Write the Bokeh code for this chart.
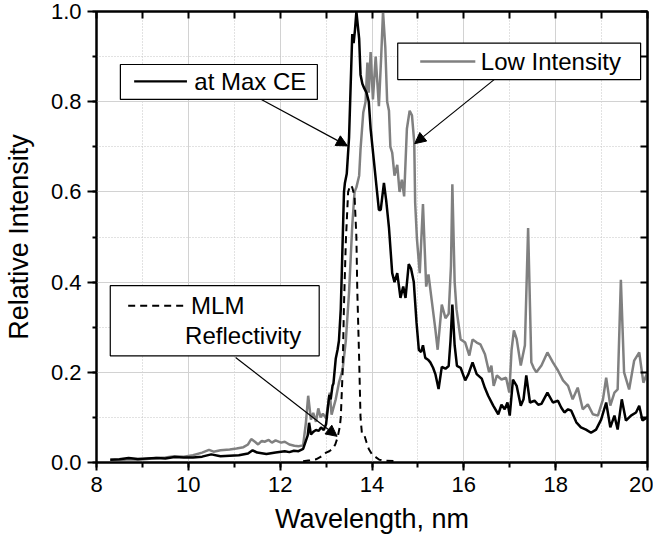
from bokeh.plotting import figure
from bokeh.models import (SingleIntervalTicker, FixedTicker, LinearAxis, NumeralTickFormatter,
                          BoxAnnotation, Label, Arrow, NormalHead)
from bokeh.embed import file_html
from bokeh.resources import INLINE

# ---------------- data ----------------
max_ce_x = [8.3, 8.5, 8.7, 8.9, 9.1, 9.3, 9.5, 9.7, 9.9, 10.1, 10.3, 10.5, 10.7, 10.9,
            11.1, 11.3, 11.4, 11.5, 11.7, 11.9, 12.1, 12.2, 12.3, 12.4, 12.5, 12.55,
            12.6, 12.63, 12.67, 12.72, 12.78, 12.84, 12.89, 12.95, 13.0, 13.07, 13.1,
            13.14, 13.16, 13.21, 13.25, 13.28, 13.32, 13.35, 13.39, 13.41, 13.45, 13.5,
            13.57, 13.6, 13.63, 13.66, 13.69, 13.72, 13.75, 13.79, 13.83, 13.88, 13.93,
            13.97, 14.04, 14.11, 14.15, 14.19, 14.26, 14.31, 14.37, 14.44, 14.49, 14.55,
            14.62, 14.68, 14.73, 14.8, 14.85, 14.91, 14.97, 15.02, 15.07, 15.11, 15.16,
            15.22, 15.27, 15.33, 15.38, 15.45, 15.52, 15.6, 15.67, 15.71, 15.75, 15.8,
            15.85, 15.93, 16.03, 16.1, 16.19, 16.28, 16.39, 16.46, 16.53, 16.64, 16.75,
            16.82, 16.89, 16.95, 17.0, 17.07, 17.15, 17.24, 17.3, 17.36, 17.44, 17.54,
            17.62, 17.69, 17.82, 17.94, 18.05, 18.12, 18.19, 18.27, 18.34, 18.45, 18.55,
            18.66, 18.77, 18.88, 18.99, 19.1, 19.19, 19.28, 19.35, 19.44, 19.53, 19.64,
            19.75, 19.82, 19.89, 20.0]
max_ce_y = [0.006, 0.007, 0.010, 0.008, 0.009, 0.010, 0.009, 0.012, 0.011, 0.011, 0.013,
            0.018, 0.014, 0.015, 0.016, 0.020, 0.027, 0.022, 0.019, 0.022, 0.025, 0.023,
            0.026, 0.025, 0.030, 0.045, 0.060, 0.088, 0.062, 0.068, 0.072, 0.070, 0.078,
            0.072, 0.085, 0.15, 0.14, 0.17, 0.175, 0.23, 0.25, 0.27, 0.34, 0.45, 0.60,
            0.62, 0.64, 0.72, 0.95, 0.93, 0.96, 1.0, 0.97, 0.94, 0.86, 0.84, 0.83, 0.82,
            0.80, 0.74, 0.67, 0.60, 0.56, 0.56, 0.62, 0.58, 0.52, 0.42, 0.40, 0.42, 0.365,
            0.39, 0.365, 0.44, 0.43, 0.40, 0.31, 0.25, 0.245, 0.26, 0.232, 0.228, 0.222,
            0.21, 0.196, 0.163, 0.212, 0.208, 0.214, 0.27, 0.35, 0.26, 0.214, 0.21, 0.182,
            0.196, 0.222, 0.196, 0.186, 0.165, 0.148, 0.126, 0.107, 0.128, 0.118, 0.133,
            0.104, 0.184, 0.17, 0.126, 0.14, 0.193, 0.133, 0.137, 0.128, 0.13, 0.155,
            0.133, 0.137, 0.122, 0.111, 0.118, 0.115, 0.089, 0.078, 0.073, 0.066, 0.073,
            0.095, 0.133, 0.078, 0.104, 0.073, 0.14, 0.093, 0.104, 0.111, 0.126, 0.093,
            0.1]

low_x = [8.3, 8.5, 8.7, 8.9, 9.1, 9.3, 9.5, 9.7, 9.9, 10.1, 10.3, 10.45, 10.55, 10.7,
         10.9, 11.05, 11.2, 11.3, 11.37, 11.45, 11.52, 11.6, 11.66, 11.75, 11.82, 11.9,
         12.02, 12.1, 12.2, 12.31, 12.4, 12.5, 12.56, 12.61, 12.67, 12.72, 12.78, 12.83,
         12.88, 12.93, 13.0, 13.08, 13.12, 13.21, 13.28, 13.36, 13.43, 13.5, 13.57, 13.62,
         13.66, 13.72, 13.75, 13.81, 13.86, 13.9, 13.93, 13.97, 14.02, 14.08, 14.15, 14.2,
         14.24, 14.29, 14.33, 14.37, 14.4, 14.44, 14.49, 14.55, 14.6, 14.65, 14.7, 14.76,
         14.82, 14.87, 14.92, 14.94, 14.98, 15.04, 15.11, 15.18, 15.23, 15.3, 15.38, 15.43,
         15.49, 15.52, 15.6, 15.67, 15.72, 15.75, 15.8, 15.84, 15.93, 16.03, 16.12, 16.19,
         16.28, 16.36, 16.46, 16.55, 16.6, 16.65, 16.72, 16.82, 16.92, 16.99, 17.04, 17.09,
         17.15, 17.24, 17.33, 17.4, 17.47, 17.52, 17.58, 17.69, 17.82, 17.94, 18.05, 18.16,
         18.27, 18.37, 18.48, 18.59, 18.7, 18.81, 18.92, 19.03, 19.1, 19.19, 19.28, 19.35,
         19.42, 19.49, 19.6, 19.71, 19.82, 19.91, 20.0]
low_y = [0.006, 0.005, 0.007, 0.006, 0.008, 0.010, 0.011, 0.014, 0.013, 0.016, 0.022,
         0.028, 0.024, 0.027, 0.029, 0.031, 0.034, 0.040, 0.052, 0.046, 0.040, 0.048,
         0.046, 0.050, 0.044, 0.049, 0.044, 0.046, 0.040, 0.037, 0.036, 0.038, 0.088,
         0.148, 0.095, 0.11, 0.09, 0.12, 0.10, 0.108, 0.098, 0.155, 0.106, 0.14, 0.177,
         0.206, 0.27, 0.377, 0.525, 0.60, 0.61, 0.636, 0.694, 0.776, 0.80, 0.887, 0.82,
         0.91, 0.805, 0.90, 0.79, 0.90, 1.0, 0.92, 0.80, 0.78, 0.70, 0.687, 0.636, 0.66,
         0.60, 0.627, 0.59, 0.74, 0.78, 0.77, 0.71, 0.576, 0.494, 0.42, 0.573, 0.39, 0.417,
         0.36, 0.295, 0.25, 0.317, 0.35, 0.32, 0.33, 0.436, 0.617, 0.40, 0.34, 0.273,
         0.266, 0.237, 0.273, 0.266, 0.262, 0.24, 0.20, 0.215, 0.17, 0.193, 0.184, 0.188,
         0.155, 0.25, 0.293, 0.274, 0.215, 0.26, 0.52, 0.222, 0.21, 0.20, 0.215, 0.244,
         0.222, 0.204, 0.182, 0.17, 0.14, 0.166, 0.118, 0.129, 0.107, 0.104, 0.14, 0.188,
         0.126, 0.155, 0.162, 0.405, 0.20, 0.162, 0.226, 0.244, 0.177, 0.20]

mlm_x = [12.5, 12.65, 12.78, 12.85, 12.93, 13.0, 13.07, 13.14, 13.2, 13.25, 13.3, 13.32,
         13.36, 13.39, 13.43, 13.48, 13.53, 13.57, 13.62, 13.66, 13.68, 13.72, 13.75,
         13.78, 13.83, 13.88, 13.93, 14.0, 14.08, 14.16, 14.3, 14.48]
mlm_y = [0.003, 0.005, 0.007, 0.011, 0.015, 0.022, 0.025, 0.030, 0.040, 0.055, 0.080,
         0.10, 0.20, 0.35, 0.49, 0.60, 0.615, 0.61, 0.59, 0.50, 0.38, 0.23, 0.10, 0.065,
         0.062, 0.045, 0.030, 0.018, 0.012, 0.006, 0.004, 0.003]

x_ticks_all = [8, 9, 10, 11, 12, 13, 14, 15, 16, 17, 18, 19, 20]
y_ticks_all = [0.0, 0.1, 0.2, 0.3, 0.4, 0.5, 0.6, 0.7, 0.8, 0.9, 1.0]

x_title = "Wavelength, nm"
y_title = "Relative Intensity"
legend_max = "at Max CE"
legend_low = "Low Intensity"
legend_mlm = ["MLM", "Reflectivity"]

FONT = "Liberation Sans"
GRAY = "#808080"

# canvas 653x540 placed at the page's 8px margin
p = figure(width=653, height=540, x_range=(8, 20), y_range=(0, 1),
           output_backend="svg", toolbar_location=None,
           min_border_left=93, min_border_right=6, min_border_top=11,
           min_border_bottom=78)
p.outline_line_color = "black"
p.outline_line_width = 2
p.background_fill_color = "white"

xt = SingleIntervalTicker(interval=2, num_minor_ticks=2)
yt = SingleIntervalTicker(interval=0.2, num_minor_ticks=2)

for ax, t in ((p.xaxis[0], xt), (p.yaxis[0], yt)):
    ax.ticker = t
    ax.axis_line_width = 2
    ax.major_tick_line_width = 2
    ax.minor_tick_line_width = 2
    ax.major_tick_in = 0
    ax.minor_tick_in = 0
    ax.major_label_text_font = FONT
    ax.major_label_text_font_size = "22px"
    ax.major_label_text_color = "black"
    ax.axis_label_text_font = FONT
    ax.axis_label_text_font_size = "27px"
    ax.axis_label_text_font_style = "normal"
    ax.axis_label_text_color = "black"

p.xaxis[0].major_tick_out = 8
p.xaxis[0].minor_tick_out = 5
p.xaxis[0].major_label_standoff = 6
p.xaxis[0].axis_label_standoff = 9
p.xaxis[0].formatter = NumeralTickFormatter(format="0")
p.xaxis[0].axis_label = x_title

p.yaxis[0].major_tick_out = 9
p.yaxis[0].minor_tick_out = 4
p.yaxis[0].major_label_standoff = 6
p.yaxis[0].axis_label_standoff = 14
p.yaxis[0].formatter = NumeralTickFormatter(format="0.0")
p.yaxis[0].axis_label = y_title

# top and right frame axes: ticks pointing inward, labels not painted
top = LinearAxis(ticker=FixedTicker(ticks=x_ticks_all),
                 major_tick_in=7, major_tick_out=0, major_label_standoff=0,
                 major_label_text_font_size="1px", major_label_text_color=None,
                 axis_line_width=2, major_tick_line_width=2)
right = LinearAxis(ticker=FixedTicker(ticks=y_ticks_all),
                   major_tick_in=7, major_tick_out=0, major_label_standoff=0,
                   major_label_text_font_size="1px", major_label_text_color=None,
                   axis_line_width=2, major_tick_line_width=2)
p.add_layout(top, "above")
p.add_layout(right, "right")

for g in (p.xgrid[0], p.ygrid[0]):
    g.grid_line_color = "#d2d2d2"
    g.grid_line_width = 1
    g.minor_grid_line_color = "#c4c4c4"
    g.minor_grid_line_dash = "1 2"
    g.minor_grid_line_width = 1

# curves
p.line(low_x, low_y, line_color=GRAY, line_width=2.5)
p.line(max_ce_x, max_ce_y, line_color="black", line_width=2.5)
p.line(mlm_x, mlm_y, line_color="black", line_width=2, line_dash="7 5")

# arrows
head = dict(size=11, fill_color="black", line_color="black")
p.add_layout(Arrow(end=NormalHead(**head), x_start=11.59, y_start=0.805,
                   x_end=13.465, y_end=0.702, line_width=1.2))
p.add_layout(Arrow(end=NormalHead(**head), x_start=16.66, y_start=0.849,
                   x_end=14.93, y_end=0.707, line_width=1.2))
p.add_layout(Arrow(end=NormalHead(**head), x_start=11.03, y_start=0.233,
                   x_end=13.24, y_end=0.058, line_width=1.2))

# legend boxes
for (l, r, b, t) in ((8.52, 12.81, 0.805, 0.8825),
                     (14.56, 19.85, 0.849, 0.93),
                     (8.30, 12.85, 0.2366, 0.392)):
    p.add_layout(BoxAnnotation(left=l, right=r, bottom=b, top=t,
                               fill_color="white", fill_alpha=1.0,
                               line_color="black", line_width=1.2, line_alpha=1.0))

p.line([8.82, 9.97], [0.845, 0.845], line_color="black", line_width=2.2, level="overlay")
p.line([15.05, 16.25], [0.889, 0.889], line_color=GRAY, line_width=2.5, level="overlay")
p.line([8.69, 9.89], [0.3475, 0.3475], line_color="black", line_width=2,
       line_dash="7 5", level="overlay")

lab = dict(text_font=FONT, text_font_size="24px", text_color="black",
           text_baseline="middle", text_align="left")
p.add_layout(Label(x=10.13, y=0.845, text=legend_max, **lab))
p.add_layout(Label(x=16.37, y=0.889, text=legend_low, **lab))
p.add_layout(Label(x=10.06, y=0.3475, text=legend_mlm[0], **lab))
p.add_layout(Label(x=9.93, y=0.281, text=legend_mlm[1], **lab))

open("out.html", "w").write(file_html(p, INLINE))
